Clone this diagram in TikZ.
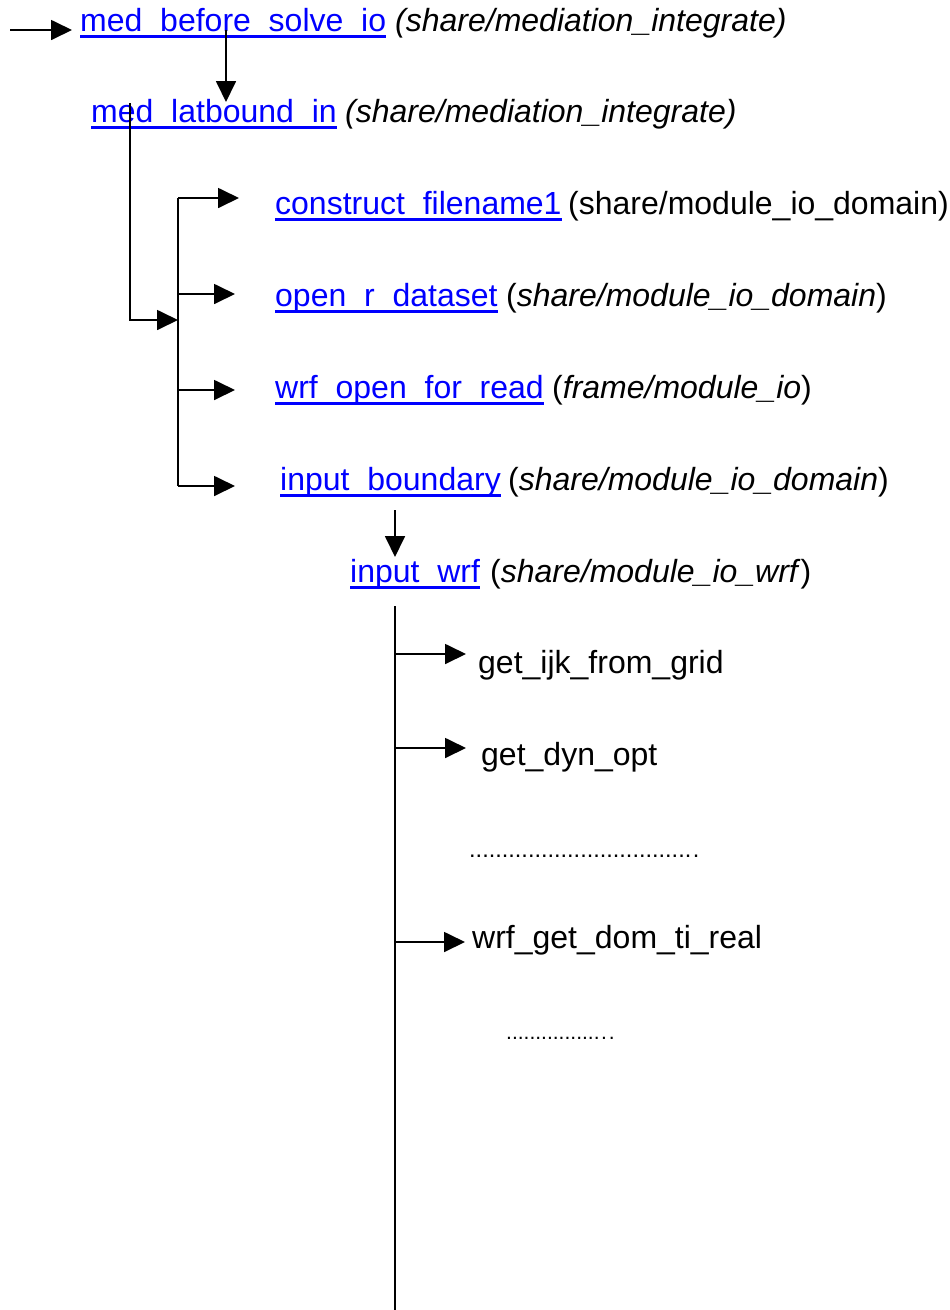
\documentclass[tikz,border=0pt]{standalone}
\usepackage{fontspec}
\setmainfont{Liberation Sans}
\usetikzlibrary{arrows.meta,calc}
\definecolor{linkblue}{RGB}{0,0,255}
\newcommand{\fsz}{\fontsize{32}{38}\selectfont}
\newcommand{\dsz}{\fontsize{23.5}{28}\selectfont}
\newcommand{\dszb}{\fontsize{21}{26}\selectfont}
\begin{document}
\begin{tikzpicture}[x=1pt,y=-1pt,
  txt/.style={anchor=base west, inner sep=0pt, font=\fsz, text=black},
  link/.style={txt, text=linkblue,
    append after command={([yshift=-5.5pt]\tikzlastnode.base west) edge[draw=linkblue, line width=2.4pt] ([yshift=-5.5pt]\tikzlastnode.base east)}},
  dotrow/.style={anchor=base west, inner sep=0pt, text=black},
  conn/.style={line width=1.8pt, draw=black},
  arr/.style={conn, -{Triangle[length=21pt,width=20pt]}}]
\fill[white] (0,0) rectangle (950,1310);
\useasboundingbox (0,0) rectangle (950,1310);

% texts
\node[link] (l1) at (80,31) {med\_before\_solve\_io};
\node[txt] (p1) at (395,31) {\itshape (share/mediation\_integrate)};
\node[link] (l2) at (91,122) {med\_latbound\_in};
\node[txt] (p2) at (345,122) {\itshape (share/mediation\_integrate)};
\node[link] (l3) at (275,214) {construct\_filename1};
\node[txt] (p3) at (568,214) {(share/module\_io\_domain)};
\node[link] (l4) at (275,306) {open\_r\_dataset};
\node[txt] (p4) at (506,306) {(\textit{share/module\_io\_domain})};
\node[link] (l5) at (275,398) {wrf\_open\_for\_read};
\node[txt] (p5) at (552,398) {(\textit{frame/module\_io})};
\node[link] (l6) at (280,490) {input\_boundary};
\node[txt] (p6) at (508,490) {(\textit{share/module\_io\_domain})};
\node[link] (l7) at (350,582) {input\_wrf};
\node[txt] (p7) at (490,582) {(\textit{share/module\_io\_wrf})};
\node[txt] (c1) at (478,673) {get\_ijk\_from\_grid};
\node[txt] (c2) at (481,765) {get\_dyn\_opt};
\node[dotrow, font=\dsz] (d1) at (469,857) {..................................\kern1.5pt.};
\node[txt] (c3) at (472,948) {wrf\_get\_dom\_ti\_real};
\node[dotrow, font=\dszb] (d2) at (506,1039) {................\kern1.5pt.\kern2pt.};

% connectors, top part
\coordinate (in0) at (10,30);
\draw[arr] (in0) -- ([xshift=-8pt]l1.west |- in0);
\coordinate (j1) at (226,30);
\draw[arr] (j1) -- (226,102);
\coordinate (j2) at (130,103);
\coordinate (b1in) at (178,320);
\draw[arr] (j2) |- (b1in);
\coordinate (b1top) at (178,198);
\coordinate (b1o) at (178,294);
\coordinate (b1w) at (178,390);
\coordinate (b1bot) at (178,486);
\draw[conn] (b1top) -- (b1bot);
\draw[arr] (b1top) -- ([xshift=-36pt]b1top -| l3.west);
\draw[arr] (b1o) -- ([xshift=-40pt]b1o -| l4.west);
\draw[arr] (b1w) -- ([xshift=-40pt]b1w -| l5.west);
\draw[arr] (b1bot) -- ([xshift=-45pt]b1bot -| l6.west);

% input_wrf part
\coordinate (j3) at (395,510);
\draw[arr] (j3) -- (395,557);
\coordinate (b2top) at (395,606);
\coordinate (b2bot) at (395,1310);
\draw[conn] (b2top) -- (b2bot);
\coordinate (br1) at (395,654);
\coordinate (br2) at (395,748);
\coordinate (br3) at (395,942);
\draw[arr] (br1) -- ([xshift=-12pt]br1 -| c1.west);
\draw[arr] (br2) -- ([xshift=-15pt]br2 -| c2.west);
\draw[arr] (br3) -- ([xshift=-7pt]br3 -| c3.west);
\end{tikzpicture}
\end{document}
